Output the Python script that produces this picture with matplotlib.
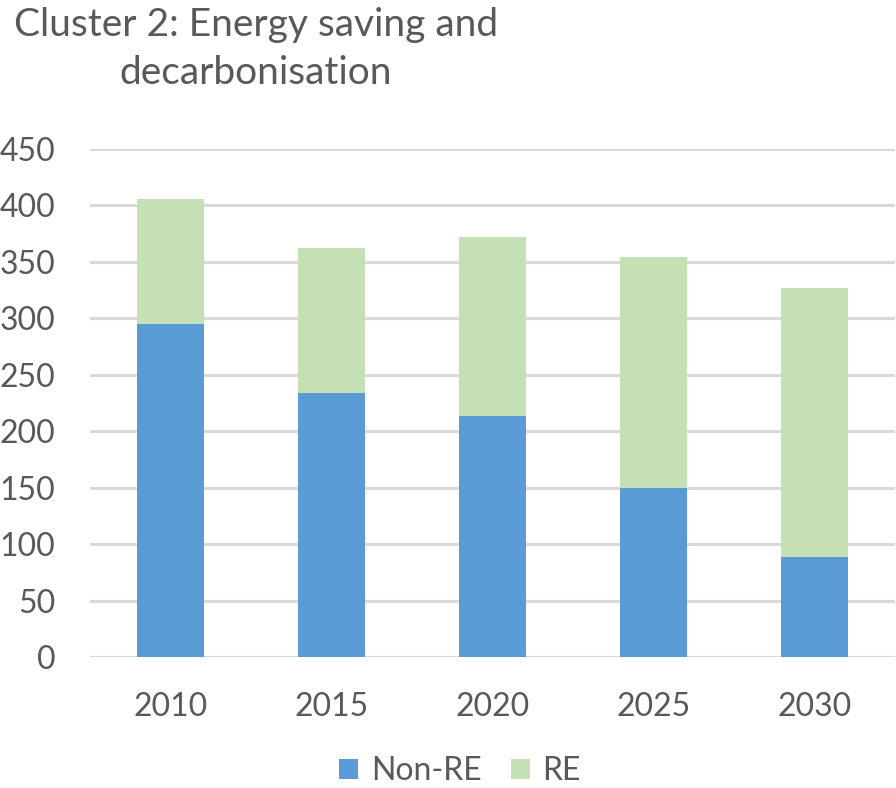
import matplotlib
matplotlib.use("Agg")
import matplotlib.pyplot as plt
import numpy as np

years = ["2010", "2015", "2020", "2025", "2030"]
non_re = [295, 234, 214, 150, 89]
total = [406, 362, 372, 354, 327]
re = [t - n for t, n in zip(total, non_re)]
yticks = [0, 50, 100, 150, 200, 250, 300, 350, 400, 450]

plt.rcParams['font.family'] = ['Lato', 'DejaVu Sans']
txt = '#595959'

fig = plt.figure(figsize=(8.96, 7.88), dpi=100)
ax = fig.add_axes([90/896, 130.7/788, 805/896, (657.3-149)/788])

x = np.arange(len(years))
ax.bar(x, non_re, width=0.41, color='#5B9BD5', label='Non-RE', zorder=3)
ax.bar(x, re, bottom=non_re, width=0.41, color='#C5E0B4', label='RE', zorder=3)

ax.set_xlim(-0.5, len(years) - 0.5)
ax.set_ylim(0, 450)
ax.set_yticks(yticks)
ax.set_yticklabels([str(v) for v in yticks])
ax.set_xticks(x)
ax.set_xticklabels(years)
ax.grid(axis='y', color='#D9D9D9', linewidth=2.2, zorder=0)
ax.set_axisbelow(True)
for s in ax.spines.values():
    s.set_visible(False)
ax.tick_params(axis='both', length=0, labelsize=23, colors=txt)
ax.tick_params(axis='y', pad=25)
ax.tick_params(axis='x', pad=25)

fig.text(256/896, 1 - 49/788, "Cluster 2: Energy saving and\ndecarbonisation",
         ha='center', va='center', fontsize=28, color=txt, linespacing=1.4)

leg = fig.legend(loc='center', bbox_to_anchor=(460/896, 1 - 771/788), ncol=2,
                 frameon=False, fontsize=23, handlelength=0.6, handleheight=0.6,
                 handletextpad=0.4, columnspacing=0.9, borderpad=0.1)
for t in leg.get_texts():
    t.set_color(txt)

fig.savefig("out.png", dpi=100)
